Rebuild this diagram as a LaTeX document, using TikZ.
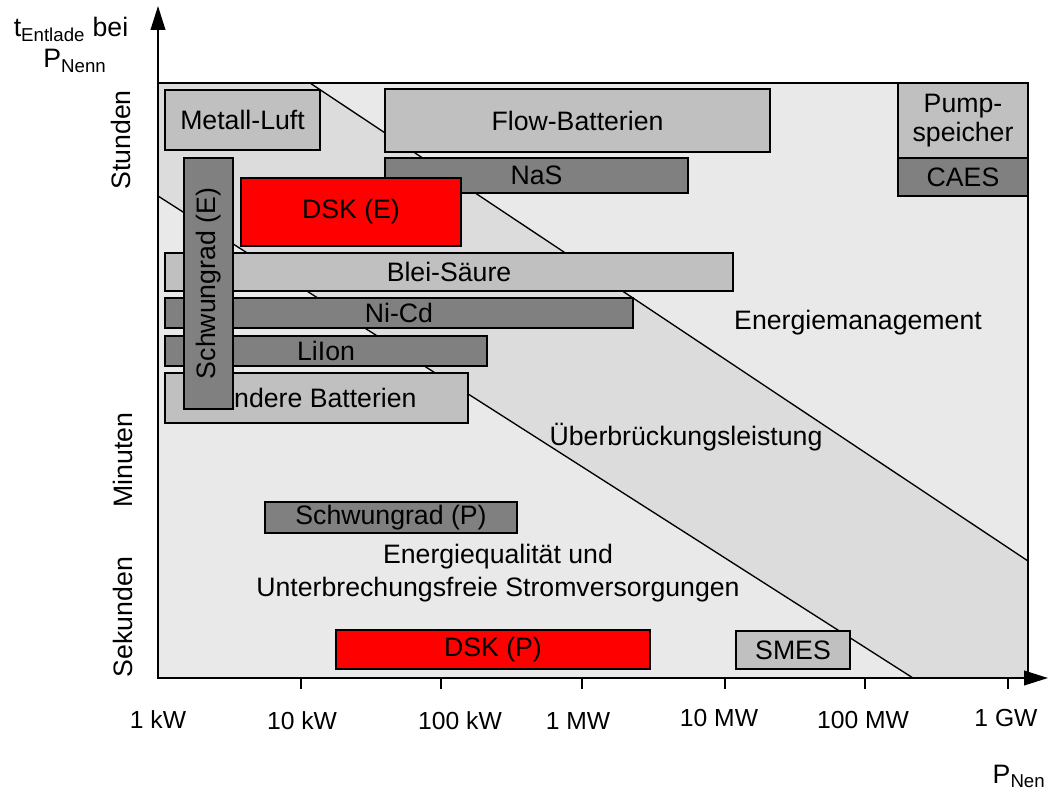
\documentclass[tikz,border=0pt]{standalone}
\usepackage{fontspec}
\setmainfont{Liberation Sans}
\usetikzlibrary{arrows.meta,fit}
\definecolor{bglight}{HTML}{E9E9E9}
\definecolor{bgband}{HTML}{DCDCDC}
\definecolor{lgbox}{HTML}{C0C0C0}
\definecolor{dgbox}{HTML}{808080}
\begin{document}
\begin{tikzpicture}[x=0.75pt,y=-0.75pt,
  font=\fontsize{20}{24}\selectfont,
  box/.style={draw=black, line width=1pt, inner sep=0pt},
  lbox/.style={box, fill=lgbox},
  dbox/.style={box, fill=dgbox},
  rbox/.style={box, fill=red},
  sepline/.style={line width=1pt},
  axisline/.style={line width=1.4pt, -{Triangle[length=18pt,width=11pt]}},
  tickline/.style={line width=1pt},
  ticklabel/.style={font=\fontsize{18.5}{22}\selectfont},
  arealabel/.style={align=center, font=\fontsize{20}{24.75}\selectfont}]
\useasboundingbox (0,0) rectangle (1048,792);
% background regions
\fill[bglight] (158,83) rectangle (1028,678);
\fill[bgband] (158,83) -- (310,83) -- (1028,561) -- (1028,678) -- (913,678) -- (158,196) -- cycle;
\coordinate (u1) at (310,83);
\coordinate (u2) at (1028,561);
\coordinate (l1) at (158,196);
\coordinate (l2) at (913,678);
\draw[sepline] (u1) -- (u2);
\draw[sepline] (l1) -- (l2);
\draw[line width=1pt] (158,83) rectangle (1028,678);
% area labels
\node[arealabel] (em) at (858,323) {Energiemanagement};
\node[arealabel] (ub) at (686,437) {Überbrückungsleistung};
\node[arealabel] (eq) at (498,573) {Energiequalität und\\Unterbrechungsfreie Stromversorgungen};
% boxes
\node[lbox, fit={(165,90) (320,150)}, label=center:Metall-Luft] (ml) {};
\node[lbox, fit={(385,89) (770,152)}, label=center:Flow-Batterien] (fb) {};
\node[lbox, fit={(898,83) (1028,158)}, label={[align=center, font=\fontsize{20}{22}\selectfont]center:Pump-\\speicher}] (ps) {};
\node[dbox, fit={(898,158) (1028,196)}, label=center:CAES] (caes) {};
\node[dbox, fit={(385,158) (688,193)}, label=center:NaS] (nas) {};
\node[rbox, fit={(241,178) (461,246)}, label=center:DSK (E)] (dske) {};
\node[lbox, fit={(165,253) (733,291)}, label=center:Blei-Säure] (bs) {};
\node[dbox, fit={(165,298) (633,328)}, label=center:Ni-Cd] (nicd) {};
\node[dbox, fit={(165,336) (487,366)}, label=center:LiIon] (liion) {};
\node[lbox, fit={(165,373) (468,423)}, label=center:Andere Batterien] (ab) {};
\node[dbox, fit={(184,158) (233,409)}] (swe) {};
\node[rotate=90] (swet) at (swe.center) {Schwungrad (E)};
\node[dbox, fit={(265,502) (517,533)}, label=center:Schwungrad (P)] (swp) {};
\node[rbox, fit={(336,630) (650,669)}, label=center:DSK (P)] (dskp) {};
\node[lbox, fit={(736,631) (850,669)}, label=center:SMES] (smes) {};
% axes
\coordinate (o) at (158,678);
\coordinate (ytip) at (158,6);
\coordinate (xtip) at (1048,678);
\draw[axisline] (o) -- (ytip);
\draw[axisline] (o) -- (xtip);
% ticks
\foreach \x/\n in {301/t1,441/t2,582/t3,725/t4,865/t5,1008/t6}{
  \coordinate (\n a) at (\x,678);
  \coordinate (\n b) at (\x,689);
  \draw[tickline] (\n a) -- (\n b);
}
% tick labels
\node[ticklabel] (k1) at (158,720) {1 kW};
\node[ticklabel] (k10) at (302,721) {10 kW};
\node[ticklabel] (k100) at (460,721) {100 kW};
\node[ticklabel] (m1) at (578,721) {1 MW};
\node[ticklabel] (m10) at (719,718) {10 MW};
\node[ticklabel] (m100) at (863,720) {100 MW};
\node[ticklabel] (g1) at (1006,718) {1 GW};
% axis titles
\node[anchor=base] (yt1) at (71,37) {t\textsubscript{Entlade} bei};
\node[anchor=base] (yt2) at (75,68) {P\textsubscript{Nenn}};
\node[anchor=base east, inner sep=1pt] (xt) at (1047,783) {P\textsubscript{Nen}};
% y labels
\node[rotate=90] (st) at (121,140) {Stunden};
\node[rotate=90] (mi) at (123,460) {Minuten};
\node[rotate=90] (se) at (123,617) {Sekunden};
\end{tikzpicture}
\end{document}
